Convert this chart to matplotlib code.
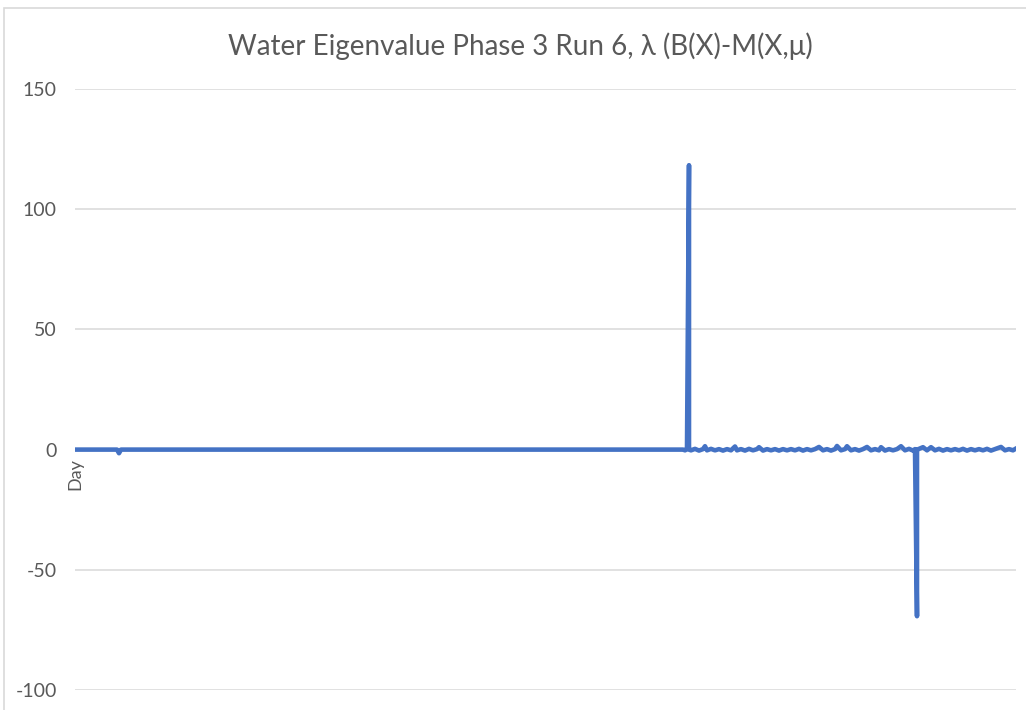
import matplotlib
matplotlib.use('Agg')
import matplotlib.pyplot as plt
from matplotlib.patches import Rectangle

plt.rcParams['font.family'] = ['Lato', 'DejaVu Sans']
plt.rcParams['axes.unicode_minus'] = False

# flat part of the run (day index, eigenvalue)
flat_day = [0, 21, 22, 23, 303]
flat_val = [0.0, 0.0, -1.5, 0.0, 0.0]

# active part of the run
noise_day = [304, 305, 306, 307, 307, 308, 310, 312, 314, 315, 316, 318, 320, 322, 324,
             326, 328, 330, 331, 333, 335, 337, 339, 341, 342, 344, 346, 348, 350,
             352, 354, 356, 358, 360, 362, 364, 366, 368, 370, 372, 374, 376, 378,
             380, 381, 383, 385, 386, 388, 390, 392, 394, 396, 398, 400, 402, 403,
             405, 407, 409, 411, 413, 415, 417, 419, 420, 421, 421, 422, 424, 426, 428,
             430, 432, 434, 436, 438, 440, 442, 444, 446, 448, 450, 452, 454, 456,
             458, 460, 463, 465, 467, 469, 470]
noise_val = [0.0, -0.3, 0.2, 118.3, 0.0, -0.3, 0.3, -0.4, 0.2, 1.4, -0.3, 0.3, -0.3, 0.2, -0.4,
             0.2, -0.3, 1.3, -0.3, 0.2, -0.4, 0.3, -0.3, 0.2, 1.0, -0.4, 0.2, -0.3, 0.2,
             -0.4, 0.2, -0.3, 0.2, -0.3, 0.3, -0.4, 0.2, -0.3, 0.2, 1.1, -0.3, 0.2, -0.4,
             0.2, 1.5, -0.3, 0.2, 1.4, -0.3, 0.2, -0.4, 0.2, 1.1, -0.3, 0.2, -0.3, 1.0,
             -0.4, 0.2, -0.3, 0.2, 1.4, -0.3, 0.3, -0.4, 0.2, -69.3, 0.0, 0.3, 1.0, -0.3, 1.0,
             -0.3, 0.3, -0.4, 0.2, -0.3, 0.2, -0.3, 0.3, -0.4, 0.2, -0.3, 0.2, -0.3, 0.3,
             -0.4, 0.2, 1.1, -0.3, 0.2, -0.3, 0.2]

y_ticks = [-100, -50, 0, 50, 100, 150]

days = flat_day + noise_day
vals = flat_val + noise_val

W, H = 1026, 710
fig = plt.figure(figsize=(W / 100, H / 100), dpi=100)

# chart area border (light grey, runs off the right/bottom edge)
fig.patches.append(Rectangle((4 / W, -0.1), 1.2, 1.1 - 8 / H, transform=fig.transFigure,
                             fill=False, edgecolor='#d9d9d9', linewidth=1.2))

ax = fig.add_axes([75 / W, 20 / H, 941 / W, 601 / H])
ax.plot(days, vals, color='#4472C4', linewidth=3.3, solid_joinstyle='round', zorder=3)

ax.set_xlim(0, 470.5)
ax.set_ylim(-100, 150)
ax.set_yticks(y_ticks)
ax.set_xticks([])
ax.grid(axis='y', color='#d9d9d9', linewidth=1.1)
ax.tick_params(axis='y', length=0, pad=13, labelsize=14, labelcolor='#595959')
for s in ax.spines.values():
    s.set_visible(False)

ax.text(0, -3.5, 'Day', rotation=90, ha='center', va='top', fontsize=13, color='#595959')

fig.text(520 / W, 1 - 46 / H, 'Water Eigenvalue Phase 3 Run 6, λ (B(X)-M(X,μ)',
         ha='center', va='center', fontsize=20, color='#595959')

fig.savefig('out.png', dpi=100)
plt.close(fig)
